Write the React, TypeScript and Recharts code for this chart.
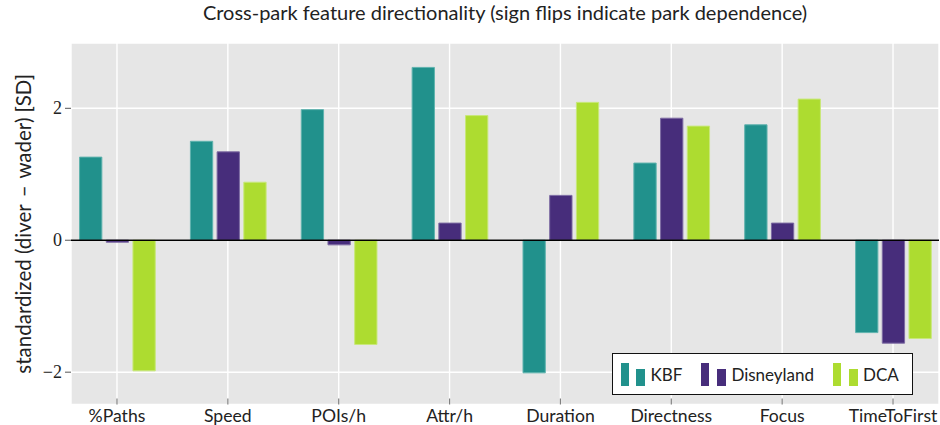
import React from 'react';
import { BarChart, Bar, XAxis, YAxis, CartesianGrid, ReferenceLine } from 'recharts';

const categories = ['%Paths', 'Speed', 'POIs/h', 'Attr/h', 'Duration', 'Directness', 'Focus', 'TimeToFirst'];
const kbf = [1.26, 1.5, 1.98, 2.62, -2.01, 1.17, 1.75, -1.4];
const disneyland = [-0.03, 1.34, -0.07, 0.26, 0.68, 1.85, 0.26, -1.56];
const dca = [-1.98, 0.88, -1.58, 1.89, 2.09, 1.73, 2.14, -1.49];
const yTicks = [-2, 0, 2];
const seriesKeys = ['KBF', 'Disneyland', 'DCA'];
const seriesColors = ['#21918c', '#472d7b', '#addc30'];
const seriesEdges = ['#5fb3ae', '#7d6ba3', '#c8e87a'];

const data = categories.map((c, i) => ({ name: c, KBF: kbf[i], Disneyland: disneyland[i], DCA: dca[i] }));

const SANS = 'Lato, "Open Sans", sans-serif';
const SERIF = '"Liberation Serif", "DejaVu Serif", serif';

const BottomTick = (props: any) => {
  const { x, y, payload } = props;
  return (
    <g>
      <line x1={x} x2={x} y1={y - 6} y2={y} stroke="#808080" strokeWidth={1.2} />
      <text x={x} y={y + 17} textAnchor="middle" fontFamily={SANS} fontSize={17.6} fill="#222">
        {payload.value}
      </text>
    </g>
  );
};

const TopTick = (props: any) => {
  const { x, y } = props;
  return <line x1={x} x2={x} y1={y} y2={y + 6} stroke="#808080" strokeWidth={1.2} />;
};

const YTick = (props: any) => {
  const { x, y, payload } = props;
  const v = payload.value;
  const s = v < 0 ? '\u2212' + Math.abs(v) : String(v);
  return (
    <text x={x} y={y} dy={6} textAnchor="end" fontFamily={SERIF} fontSize={18} fill="#222">
      {s}
    </text>
  );
};

const LegendBox = () => (
  <div
    style={{
      position: 'absolute',
      left: 612,
      top: 353,
      boxSizing: 'border-box',
      width: 301,
      height: 42,
      border: '1.5px solid #111',
      background: '#fff',
      display: 'flex',
      alignItems: 'center',
      paddingLeft: 7.5,
      fontFamily: SANS,
      fontSize: 17,
      color: '#222',
    }}
  >
    {seriesKeys.map((k, i) => (
      <div key={k} style={{ display: 'flex', alignItems: 'flex-end', marginRight: i < seriesKeys.length - 1 ? 19 : 0 }}>
        <div style={{ width: 8, height: 23, background: seriesColors[i], marginRight: 7.5 }} />
        <div style={{ width: 9, height: 17, background: seriesColors[i], marginRight: 5.5 }} />
        <span style={{ lineHeight: '22px' }}>{k}</span>
      </div>
    ))}
  </div>
);

export default function App() {
  return (
    <div style={{ position: 'fixed', left: 0, top: 0, width: 940, height: 425, background: '#fff' }}>
      <div
        style={{
          position: 'absolute',
          left: 71,
          width: 868,
          top: 0,
          textAlign: 'center',
          fontFamily: SANS,
          fontSize: 20,
          color: '#222',
        }}
      >
        Cross-park feature directionality (sign flips indicate park dependence)
      </div>
      <BarChart
        width={940}
        height={425}
        data={data}
        margin={{ top: 43, right: 1, left: 11, bottom: 0 }}
        barSize={22.3}
        barGap={4.4}
        style={{ position: 'absolute', left: 0, top: 0 }}
      >
        <CartesianGrid fill="#e6e6e6" stroke="#ffffff" strokeWidth={1.4} />
        <XAxis
          dataKey="name"
          height={20.5}
          padding={{ left: -9.45, right: -9.45 }}
          axisLine={false}
          tickLine={false}
          tickSize={0}
          tickMargin={0}
          interval={0}
          tick={<BottomTick />}
        />
        <XAxis
          xAxisId="top"
          dataKey="name"
          orientation="top"
          height={0}
          padding={{ left: -9.45, right: -9.45 }}
          axisLine={false}
          tickLine={false}
          tickSize={0}
          tickMargin={0}
          interval={0}
          tick={<TopTick />}
        />
        <YAxis
          width={60}
          domain={[-2.49, 2.99]}
          ticks={yTicks}
          allowDataOverflow
          axisLine={false}
          tickLine={{ stroke: '#555', strokeWidth: 1 }}
          tickSize={6}
          tickMargin={3}
          tick={<YTick />}
          label={{
            content: (p: any) => {
              const cy = p.viewBox.y + p.viewBox.height / 2;
              const cx = 23;
              return (
                <text
                  x={cx}
                  y={cy}
                  transform={`rotate(-90, ${cx}, ${cy})`}
                  textAnchor="middle"
                  dominantBaseline="central"
                  fontFamily={SANS}
                  fontSize={20.5}
                  fill="#222"
                >
                  {'standardized (diver\u2004\u2013\u2004wader) [SD]'}
                </text>
              );
            },
          }}
        />
        {seriesKeys.map((k, i) => (
          <Bar
            key={k}
            dataKey={k}
            name={k}
            fill={seriesColors[i]}
            stroke={seriesEdges[i]}
            strokeWidth={1}
            isAnimationActive={false}
          />
        ))}
        <ReferenceLine y={0} stroke="#000" strokeWidth={1.5} />
      </BarChart>
      <LegendBox />
    </div>
  );
}
